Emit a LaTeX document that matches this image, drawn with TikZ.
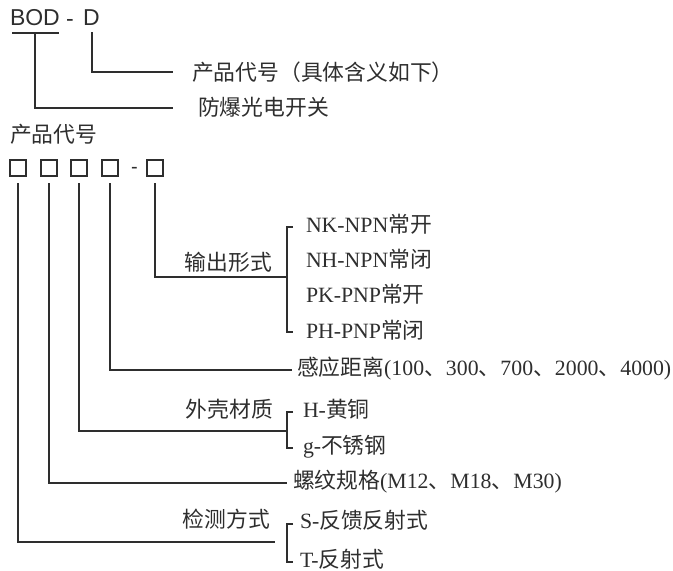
\documentclass[tikz,border=0pt]{standalone}
\usepackage{fontspec}
\usetikzlibrary{calc}
\setmainfont{Liberation Serif}
\newfontfamily\cjk{Noto Sans CJK SC}
\newfontfamily\arialf{Liberation Sans}
\definecolor{ink}{HTML}{2E2E2E}
\newcommand{\zh}[1]{{\cjk #1}}
\begin{document}
\begin{tikzpicture}[x=1pt,y=-1pt,
  line width=1.1pt, draw=ink,
  every node/.style={text=ink, inner sep=0pt, outer sep=0pt},
  lab/.style={font=\fontsize{21.8}{24}\selectfont, text height=15.5pt, text depth=4pt},
  head/.style={font=\arialf\fontsize{23}{26}\selectfont},
  cell/.style={draw=ink, line width=1.1pt, minimum size=16pt},
  wire/.style={draw=ink, line width=1.1pt}]
\useasboundingbox (0,0) rectangle (673,571);

% top part
\node[head, anchor=west] (bod) at (10,18) {BOD};
\node[head, anchor=base] (hy1) at (70,26.5) {-};
\node[head, anchor=west] (dd) at (83,18) {D};
\coordinate (ulL) at (12,33);
\coordinate (ulR) at (59,33);
\draw[wire] (ulL) -- (ulR);
\coordinate (bodv) at (35,33);
\coordinate (ddv) at (92,32);
\coordinate (e1) at (173,72);
\coordinate (e2) at (173,108);
\node[lab, anchor=west] (pcode) at (192,75) {\zh{产品代号（具体含义如下）}};
\node[lab, anchor=west] (fb) at (198,110) {\zh{防爆光电开关}};
\draw[wire] (ddv) |- (e1);
\draw[wire] (bodv) |- (e2);

\node[lab, anchor=west] (pc2) at (10,137) {\zh{产品代号}};

% boxes
\node[cell] (b1) at (18,168) {};
\node[cell] (b2) at (49,168) {};
\node[cell] (b3) at (79,168) {};
\node[cell] (b4) at (110,168) {};
\node[font=\arialf\fontsize{20}{22}\selectfont, anchor=base] (hy2) at (134.5,173) {-};
\node[cell] (b5) at (155,168) {};

\coordinate (s1) at (18,183);
\coordinate (s2) at (49,183);
\coordinate (s3) at (79,183);
\coordinate (s4) at (110,183);
\coordinate (s5) at (155,183);

% output form
\coordinate (k1) at (287,277);
\draw[wire] (s5) |- (k1);
\coordinate (k1t) at (287,227);
\coordinate (k1b) at (287,332);
\draw[wire] ($(k1t)+(6,0)$) -- (k1t) -- (k1b) -- ($(k1b)+(6,0)$);
\node[lab, anchor=east] (out) at (272,265) {\zh{输出形式}};
\node[lab, anchor=west] (o1) at (306,227) {NK-NPN\zh{常开}};
\node[lab, anchor=west] (o2) at (306,262) {NH-NPN\zh{常闭}};
\node[lab, anchor=west] (o3) at (306,297) {PK-PNP\zh{常开}};
\node[lab, anchor=west] (o4) at (306,333) {PH-PNP\zh{常闭}};

% sensing distance
\node[lab, anchor=west] (dist) at (297,370) {\zh{感应距离}(100\zh{、}300\zh{、}700\zh{、}2000\zh{、}4000)};
\draw[wire] (s4) |- ([xshift=-5pt]dist.west);

% housing material
\coordinate (k2) at (287,431);
\draw[wire] (s3) |- (k2);
\coordinate (k2t) at (287,412);
\coordinate (k2b) at (287,448);
\draw[wire] ($(k2t)+(6,0)$) -- (k2t) -- (k2b) -- ($(k2b)+(6,0)$);
\node[lab, anchor=east] (mat) at (273,412) {\zh{外壳材质}};
\node[lab, anchor=west] (m1) at (303,412) {H-\zh{黄铜}};
\node[lab, anchor=west] (m2) at (303,448) {g-\zh{不锈钢}};

% thread spec
\node[lab, anchor=west] (thr) at (293,483) {\zh{螺纹规格}(M12\zh{、}M18\zh{、}M30)};
\draw[wire] (s2) |- ([xshift=-6pt]thr.west);

% detection mode
\coordinate (k3) at (275,542);
\draw[wire] (s1) |- (k3);
\coordinate (k3t) at (287,524);
\coordinate (k3b) at (287,562);
\draw[wire] ($(k3t)+(6,0)$) -- (k3t) -- (k3b) -- ($(k3b)+(6,0)$);
\node[lab, anchor=east] (det) at (270,522) {\zh{检测方式}};
\node[lab, anchor=west] (d1) at (300,523) {S-\zh{反馈反射式}};
\node[lab, anchor=west] (d2) at (300,562) {T-\zh{反射式}};
\end{tikzpicture}
\end{document}
